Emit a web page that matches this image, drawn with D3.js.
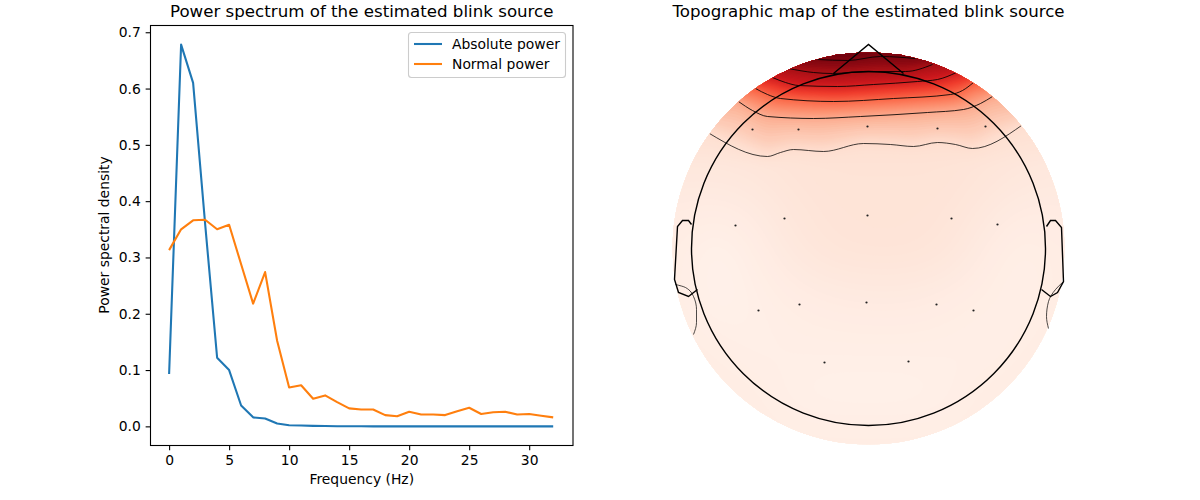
<!DOCTYPE html>
<html>
<head>
<meta charset="utf-8">
<script src="https://cdn.jsdelivr.net/npm/d3@7"></script>
<style>
body { margin: 0; background: white; }
svg { display: block; }
text { font-family: "DejaVu Sans"; fill: black; }
</style>
</head>
<body>
<svg id="fig" width="1200" height="500"></svg>
<script>
// spectrum data
const freqs = d3.range(0, 33);
const absolutePower = [0.093, 0.678, 0.61, 0.36, 0.122, 0.1, 0.037, 0.016, 0.014, 0.005, 0.002, 0.0015, 0.0008,
    0.0005, 0.0003, 0.0002, 0.0001, 0, 0, 0, 0, 0, 0, 0, 0, 0, 0, 0, 0, 0, 0, 0, 0];
const normalPower = [0.313, 0.35, 0.366, 0.367, 0.35, 0.358, 0.288, 0.218, 0.274, 0.152, 0.069, 0.073, 0.049,
    0.055, 0.043, 0.032, 0.03, 0.03, 0.02, 0.018, 0.026, 0.021, 0.021, 0.02, 0.027, 0.033, 0.022, 0.025,
    0.026, 0.021, 0.022, 0.019, 0.016];
const xTicks = [0, 5, 10, 15, 20, 25, 30];
const yTicks = [0, 0.1, 0.2, 0.3, 0.4, 0.5, 0.6, 0.7];
const seriesNames = ["Absolute power", "Normal power"];
const seriesColors = ["#1f77b4", "#ff7f0e"];

// topomap data, head coordinates with the head centre at 0,0
const headRadius = 177;
const mapRadius = 196;
const sensors = [[-116, 119], [-70, 119], [-1, 122], [69, 120], [117, 122],
    [-133, 23], [-84, 30], [-1, 33], [83, 30], [129, 24],
    [-110, -62], [-69, -56], [-2, -54], [68, -56], [105, -62],
    [-44, -114], [40, -113]];
const nose = [[-35, 175], [0, 204], [35, 175]];
const leftEar = [[-177, 24], [-180, 28], [-186, 28], [-191, 22], [-194, -31], [-190, -44], [-180, -48], [-171, -41]];
const rightEar = [[178, 22], [182, 28], [187, 28], [193, 21], [195, -33], [189, -44], [182, -48], [173, -41]];
const leftEarLine = [[-193, -36], [-183, -39], [-175, -48], [-172, -61], [-172, -74], [-175, -86]];
const rightEarLine = [[195, -33], [187, -41], [180, -53], [178, -68], [180, -80]];

const isoLevels = [0.97, 0.87, 0.73, 0.52, 0.3, 0.13];
const isoLines = [
    [[-51, 189], [-21, 188], [12, 192], [47, 190]],
    [[-80, 180], [-55, 176], [-36, 175], [-18, 176], [9, 177], [37, 177], [64, 184]],
    [[-96, 171], [-83, 166], [-70, 163], [-31, 162], [5, 164], [49, 167], [69, 169], [88, 176]],
    [[-113, 160], [-101, 154], [-88, 150], [-35, 147], [25, 150], [82, 154], [94, 158], [105, 166]],
    [[-130, 147], [-116, 138], [-101, 132], [-55, 130], [-8, 132], [59, 136], [95, 139], [112, 145], [124, 152]],
    [[-159, 115], [-101, 92], [-88, 96], [-75, 99], [-45, 97], [-5, 105], [22, 104], [45, 102], [69, 106], [87, 104], [104, 100], [153, 123]]
];
const topValue = 1;
const lowerX = [-195, -156, -117, -78, -39, 0, 39, 78, 117, 156, 195];
const lowerY = [84, 49, -1, -51, -101, -151, -196];
const lowerValues = [
    [0.09, 0.09, 0.095, 0.105, 0.11, 0.11, 0.11, 0.11, 0.1, 0.09, 0.08],
    [0.065, 0.06, 0.07, 0.095, 0.105, 0.105, 0.105, 0.105, 0.085, 0.065, 0.065],
    [0.055, 0.02, 0.045, 0.08, 0.1, 0.105, 0.105, 0.095, 0.06, 0.035, 0.055],
    [0.055, 0.02, 0.035, 0.05, 0.06, 0.065, 0.065, 0.055, 0.045, 0.035, 0.055],
    [0.055, 0.05, 0.035, 0.04, 0.04, 0.04, 0.04, 0.04, 0.035, 0.05, 0.055],
    [0.055, 0.055, 0.055, 0.035, 0.03, 0.03, 0.03, 0.035, 0.055, 0.055, 0.055],
    [0.055, 0.055, 0.055, 0.055, 0.055, 0.055, 0.055, 0.055, 0.055, 0.055, 0.055]
];
const redsStops = ["#fff5f0", "#fee0d2", "#fcbba1", "#fc9272", "#fb6a4a", "#ef3b2c", "#cb181d", "#a50f15", "#67000d"];

const svg = d3.select("#fig");

function drawSpectrum() {
    const left = 150.5, right = 573, top = 25.5, bottom = 445.5;
    const x = d3.scaleLinear().domain([-1.55, 33.65]).range([left, right]);
    const y = d3.scaleLinear().domain([-0.034, 0.712]).range([bottom, top]);
    const g = svg.append("g");

    const line = d3.line().x((d, i) => x(freqs[i])).y(d => y(d));
    [absolutePower, normalPower].forEach((values, i) => {
        g.append("path")
            .attr("d", line(values))
            .attr("fill", "none")
            .attr("stroke", seriesColors[i])
            .attr("stroke-width", 2.08)
            .attr("stroke-linejoin", "round");
    });

    const xAxis = g.append("g")
        .attr("transform", `translate(0,${bottom})`)
        .call(d3.axisBottom(x).tickValues(xTicks).tickFormat(d3.format("d")).tickSize(4.86).tickPadding(4.9).tickSizeOuter(0));
    const yAxis = g.append("g")
        .attr("transform", `translate(${left},0)`)
        .call(d3.axisLeft(y).tickValues(yTicks).tickFormat(d3.format(".1f")).tickSize(4.86).tickPadding(4.9).tickSizeOuter(0));
    for (const axis of [xAxis, yAxis]) {
        axis.select(".domain").remove();
        axis.selectAll("line").attr("stroke", "black").attr("stroke-width", 1.1);
        axis.selectAll("text").attr("font-family", "DejaVu Sans").style("font-size", "13.89px").attr("fill", "black");
    }

    g.append("rect")
        .attr("x", left).attr("y", top)
        .attr("width", right - left).attr("height", bottom - top)
        .attr("fill", "none").attr("stroke", "black").attr("stroke-width", 1.1);

    g.append("text")
        .attr("x", (left + right) / 2).attr("y", 484)
        .attr("text-anchor", "middle").style("font-size", "13.89px")
        .text("Frequency (Hz)");
    g.append("text")
        .attr("transform", "translate(109,235) rotate(-90)")
        .attr("text-anchor", "middle").style("font-size", "13.89px")
        .text("Power spectral density");
    g.append("text")
        .attr("x", (left + right) / 2).attr("y", 17)
        .attr("text-anchor", "middle").style("font-size", "16.67px")
        .text("Power spectrum of the estimated blink source");

    // legend
    const legend = g.append("g");
    legend.append("rect")
        .attr("x", 408.5).attr("y", 32.5)
        .attr("width", 157).attr("height", 45).attr("rx", 3)
        .attr("fill", "white").attr("fill-opacity", 0.8)
        .attr("stroke", "#cccccc").attr("stroke-width", 1.1);
    seriesNames.forEach((name, i) => {
        legend.append("line")
            .attr("x1", 414).attr("x2", 442)
            .attr("y1", 44 + i * 20).attr("y2", 44 + i * 20)
            .attr("stroke", seriesColors[i]).attr("stroke-width", 2.08);
        legend.append("text")
            .attr("x", 452).attr("y", 49 + i * 20)
            .style("font-size", "13.89px")
            .text(name);
    });
}

function drawTopomap() {
    const cx = 868.5, cy = 248.5;
    const x = d3.scaleLinear().domain([-mapRadius, mapRadius]).range([cx - mapRadius, cx + mapRadius]);
    const y = d3.scaleLinear().domain([-mapRadius, mapRadius]).range([cy + mapRadius, cy - mapRadius]);
    const color = d3.scaleLinear().domain(d3.range(9).map(i => i / 8)).range(redsStops).clamp(true);

    const cell = 2;
    const n = Math.ceil(2 * mapRadius / cell);
    const colX = d3.scaleLinear().domain([0, n]).range([-mapRadius, mapRadius]);
    const rowY = d3.scaleLinear().domain([0, n]).range([mapRadius, -mapRadius]);

    // lower part of the head comes from the coarse grid, blurred so the grid does not show
    const rowAt = lowerValues.map(row => d3.scaleLinear().domain(lowerX).range(row).clamp(true));
    const lower = new Float64Array(n * n);
    for (let i = 0; i < n; i++) {
        const hx = colX(i + 0.5);
        const profile = d3.scaleLinear().domain(lowerY).range(rowAt.map(f => f(hx))).clamp(true);
        for (let j = 0; j < n; j++) {
            lower[j * n + i] = profile(rowY(j + 0.5));
        }
    }
    d3.blur2({data: lower, width: n, height: n}, 8);

    // upper part goes through the iso lines
    const isoAt = isoLines.map(pts => d3.scaleLinear().domain(pts.map(p => p[0])).range(pts.map(p => p[1])).clamp(true));
    const startRow = Math.round(rowY.invert(lowerY[0]));
    const data = new Float64Array(n * n);
    for (let i = 0; i < n; i++) {
        const hx = colX(i + 0.5);
        const stopsY = [mapRadius + 1, ...isoAt.map(f => f(hx)), lowerY[0]];
        const stopsV = [topValue, ...isoLevels, lower[startRow * n + i]];
        const profile = d3.scaleLinear().domain(stopsY).range(stopsV).clamp(true);
        for (let j = 0; j < n; j++) {
            data[j * n + i] = j < startRow ? profile(rowY(j + 0.5)) : lower[j * n + i];
        }
    }
    d3.blur2({data, width: n, height: n}, 2);

    // fine steps in the pale part, where banding shows most
    const thresholds = [...d3.range(0, 0.2, 0.004), ...d3.range(0.2, 1.001, 0.0125)];
    const contours = d3.contours().size([n, n]).thresholds(thresholds)(data);

    svg.append("defs").append("clipPath").attr("id", "map-clip")
        .append("circle").attr("cx", x(0)).attr("cy", y(0)).attr("r", mapRadius);

    const g = svg.append("g").attr("clip-path", "url(#map-clip)");
    g.append("g")
        .attr("transform", `translate(${x(-mapRadius)},${y(mapRadius)}) scale(${cell})`)
        .selectAll("path")
        .data(contours)
        .join("path")
        .attr("d", d3.geoPath())
        .attr("fill", d => color(d.value));

    const line = d3.line().x(d => x(d[0])).y(d => y(d[1]));
    g.selectAll(".iso")
        .data(isoLines)
        .join("path")
        .attr("class", "iso")
        .attr("d", line.curve(d3.curveMonotoneX))
        .attr("fill", "none")
        .attr("stroke", "black")
        .attr("stroke-width", (d, i) => i === 5 ? 0.75 : 0.85);

    // sensors
    svg.append("g").selectAll("circle")
        .data(sensors)
        .join("circle")
        .attr("cx", d => x(d[0]))
        .attr("cy", d => y(d[1]))
        .attr("r", 1.1)
        .attr("fill", "#222222");

    // head outline
    const outline = d3.line().x(d => x(d[0])).y(d => y(d[1]));
    const head = svg.append("g").attr("fill", "none").attr("stroke", "black").attr("stroke-width", 1.4);
    head.append("circle").attr("cx", x(0)).attr("cy", y(0)).attr("r", headRadius);
    for (const part of [nose, leftEar, rightEar]) {
        head.append("path").attr("d", outline(part));
    }
    for (const part of [leftEarLine, rightEarLine]) {
        head.append("path")
            .attr("d", d3.line().x(d => x(d[0])).y(d => y(d[1])).curve(d3.curveMonotoneY)(part))
            .attr("stroke-width", 0.7);
    }

    svg.append("text")
        .attr("x", cx).attr("y", 17)
        .attr("text-anchor", "middle").style("font-size", "16.67px")
        .text("Topographic map of the estimated blink source");
}

drawSpectrum();
drawTopomap();
</script>
</body>
</html>
